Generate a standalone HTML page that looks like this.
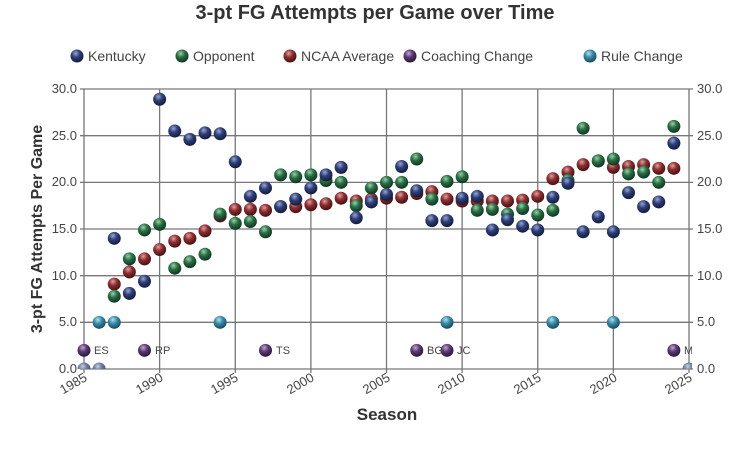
<!DOCTYPE html>
<html><head><meta charset="utf-8"><style>
html,body{margin:0;padding:0;background:#fff;}
svg{display:block;font-family:"Liberation Sans",Arial,sans-serif;}
</style></head><body>
<svg id="s" width="750" height="456" viewBox="0 0 750 456" xmlns="http://www.w3.org/2000/svg">
<defs>
<radialGradient id="gK" cx="0.4" cy="0.3" r="0.7"><stop offset="0" stop-color="#9aa6d0"/><stop offset="0.45" stop-color="#2e3f78"/><stop offset="1" stop-color="#141c3c"/></radialGradient>
<radialGradient id="gO" cx="0.4" cy="0.3" r="0.7"><stop offset="0" stop-color="#98d0aa"/><stop offset="0.45" stop-color="#2a6e44"/><stop offset="1" stop-color="#0f3520"/></radialGradient>
<radialGradient id="gN" cx="0.4" cy="0.3" r="0.7"><stop offset="0" stop-color="#e0a0a0"/><stop offset="0.45" stop-color="#8c2e30"/><stop offset="1" stop-color="#451012"/></radialGradient>
<radialGradient id="gC" cx="0.4" cy="0.3" r="0.7"><stop offset="0" stop-color="#c4a8d4"/><stop offset="0.45" stop-color="#5a3a72"/><stop offset="1" stop-color="#2a1838"/></radialGradient>
<radialGradient id="gR" cx="0.4" cy="0.3" r="0.7"><stop offset="0" stop-color="#b0e0ee"/><stop offset="0.45" stop-color="#3b8aa6"/><stop offset="1" stop-color="#164a5c"/></radialGradient>
<radialGradient id="gZ" cx="0.4" cy="0.3" r="0.7"><stop offset="0" stop-color="#c8d0e4"/><stop offset="0.45" stop-color="#6c7aa0"/><stop offset="1" stop-color="#3c4666"/></radialGradient>
<clipPath id="cp"><rect x="70" y="80" width="622" height="289"/></clipPath>
</defs>
<text x="375" y="19" text-anchor="middle" font-size="20" font-weight="bold" fill="#333">3-pt FG Attempts per Game over Time</text>
<g font-size="14" fill="#444">
<circle cx="77" cy="56" r="6.5" fill="url(#gK)"/><text x="88" y="61">Kentucky</text>
<circle cx="182" cy="56" r="6.5" fill="url(#gO)"/><text x="193" y="61">Opponent</text>
<circle cx="290" cy="56" r="6.5" fill="url(#gN)"/><text x="301" y="61">NCAA Average</text>
<circle cx="410" cy="56" r="6.5" fill="url(#gC)"/><text x="421" y="61">Coaching Change</text>
<circle cx="590" cy="56" r="6.5" fill="url(#gR)"/><text x="601" y="61">Rule Change</text>
</g>
<g id="grid" stroke="#777" stroke-width="1.3"></g>
<g font-size="13" fill="#444">
<text x="77" y="93" text-anchor="end">30.0</text><text x="77" y="140" text-anchor="end">25.0</text><text x="77" y="186" text-anchor="end">20.0</text><text x="77" y="233" text-anchor="end">15.0</text><text x="77" y="280" text-anchor="end">10.0</text><text x="77" y="326" text-anchor="end">5.0</text><text x="77" y="373" text-anchor="end">0.0</text>
<text x="697" y="93">30.0</text><text x="697" y="140">25.0</text><text x="697" y="186">20.0</text><text x="697" y="233">15.0</text><text x="697" y="280">10.0</text><text x="697" y="326">5.0</text><text x="697" y="373">0.0</text>
<text transform="translate(88,380) rotate(-30)" text-anchor="end">1985</text>
<text transform="translate(164,380) rotate(-30)" text-anchor="end">1990</text>
<text transform="translate(239,380) rotate(-30)" text-anchor="end">1995</text>
<text transform="translate(315,380) rotate(-30)" text-anchor="end">2000</text>
<text transform="translate(391,380) rotate(-30)" text-anchor="end">2005</text>
<text transform="translate(466,380) rotate(-30)" text-anchor="end">2010</text>
<text transform="translate(542,380) rotate(-30)" text-anchor="end">2015</text>
<text transform="translate(618,380) rotate(-30)" text-anchor="end">2020</text>
<text transform="translate(693,380) rotate(-30)" text-anchor="end">2025</text>
</g>
<text x="387" y="420" text-anchor="middle" font-size="17" font-weight="bold" fill="#333">Season</text>
<text transform="translate(42,229) rotate(-90)" text-anchor="middle" font-size="16" font-weight="bold" fill="#333">3-pt FG Attempts Per Game</text>
<g id="pts" clip-path="url(#cp)"></g>
<g clip-path="url(#cp)" font-size="11" fill="#444">
<text x="94" y="354">ES</text><text x="155" y="354">RP</text><text x="276" y="354">TS</text><text x="427" y="354">BG</text><text x="457" y="354">JC</text><text x="684" y="354">M</text>
</g>
</svg>
<script>
var X=function(y){return 84+(y-1985)*15.125},Y=function(v){return 369-v*9.333};
var g=document.getElementById('grid'),p=document.getElementById('pts'),ns='http://www.w3.org/2000/svg';
function el(par,t,a){var e=document.createElementNS(ns,t);for(var k in a)e.setAttribute(k,a[k]);par.appendChild(e);}
for(var y=1985;y<=2025;y+=5){el(g,'line',{x1:X(y),x2:X(y),y1:89,y2:373});}
for(var v=0;v<=30;v+=5){el(g,'line',{x1:80,x2:693,y1:Y(v),y2:Y(v)});}
var K=[14.0,8.1,9.4,28.9,25.5,24.6,25.3,25.2,22.2,18.5,19.4,17.4,18.2,19.4,20.8,21.6,16.2,17.9,18.7,21.7,19.1,15.9,15.9,18.3,18.5,14.9,16.0,15.3,14.9,18.4,19.9,14.7,16.3,14.7,18.9,17.4,17.9,24.2];
var O=[7.8,11.8,14.9,15.5,10.8,11.5,12.3,16.6,15.6,15.8,14.7,20.8,20.6,20.8,20.2,20.0,17.5,19.4,20.0,20.0,22.5,18.2,20.1,20.6,17.0,17.1,16.6,17.2,16.5,17.0,20.2,25.8,22.3,22.5,20.9,21.1,20.0,26.0];
var N=[9.1,10.4,11.8,12.8,13.7,14.0,14.8,16.4,17.1,17.1,17.0,17.4,17.4,17.6,17.7,18.3,18.0,18.2,18.3,18.4,18.8,19.0,18.2,18.0,18.0,18.0,18.0,18.1,18.5,20.4,21.1,21.9,22.3,21.6,21.7,21.9,21.5,21.5];
function dot(y,v,f){el(p,'circle',{cx:X(y),cy:Y(v),r:6.5,fill:'url(#'+f+')'});}
N.forEach(function(v,i){dot(1987+i,v,'gN')});
O.forEach(function(v,i){dot(1987+i,v,'gO')});
K.forEach(function(v,i){dot(1987+i,v,'gK')});
dot(1985,0,'gZ');dot(1986,0,'gZ');dot(2025,0,'gZ');
[1986,1987,1994,2009,2016,2020].forEach(function(y){dot(y,5,'gR')});
[1985,1989,1997,2007,2009,2024].forEach(function(y){dot(y,2,'gC')});
</script>
</body></html>
